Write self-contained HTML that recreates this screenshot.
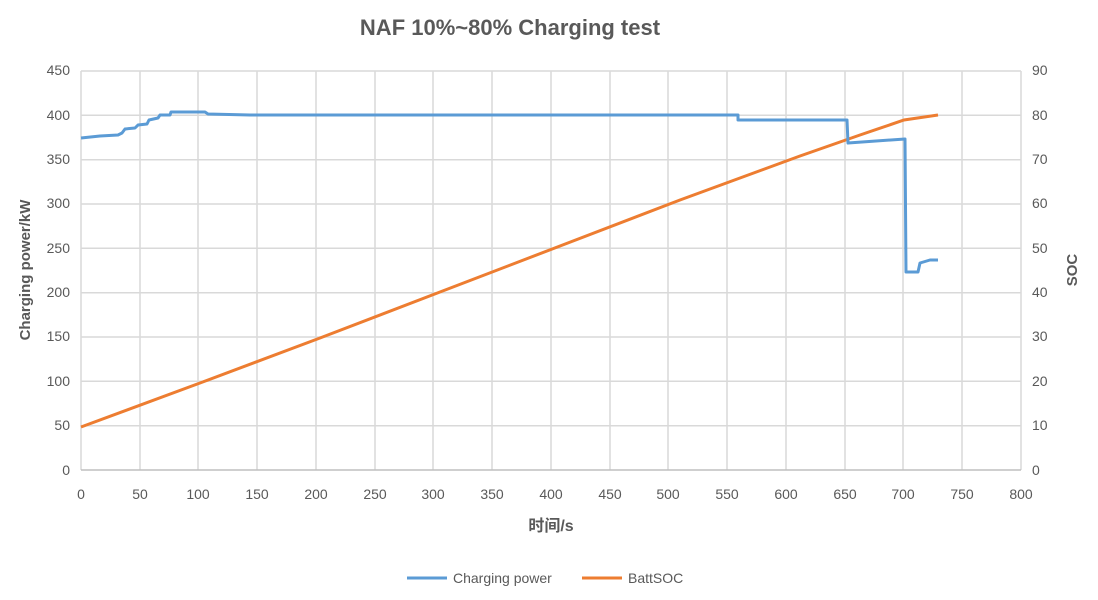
<!DOCTYPE html>
<html><head><meta charset="utf-8"><style>
body{margin:0;background:#fff;}
svg{display:block;font-family:"Liberation Sans","Noto Sans CJK SC",sans-serif;}
</style></head><body>
<svg width="1098" height="600" viewBox="0 0 1098 600">
<rect width="1098" height="600" fill="#fff"/>
<text x="510" y="35" text-anchor="middle" font-size="22" font-weight="bold" fill="#595959">NAF 10%~80% Charging test</text>
<g stroke="#d9d9d9" stroke-width="1.5">
<line x1="81" y1="71" x2="1021" y2="71"/><line x1="81" y1="115.3" x2="1021" y2="115.3"/><line x1="81" y1="159.7" x2="1021" y2="159.7"/><line x1="81" y1="204" x2="1021" y2="204"/><line x1="81" y1="248.3" x2="1021" y2="248.3"/><line x1="81" y1="292.7" x2="1021" y2="292.7"/><line x1="81" y1="337" x2="1021" y2="337"/><line x1="81" y1="381.3" x2="1021" y2="381.3"/><line x1="81" y1="425.7" x2="1021" y2="425.7"/>
<line x1="140" y1="71" x2="140" y2="470"/><line x1="198" y1="71" x2="198" y2="470"/><line x1="257" y1="71" x2="257" y2="470"/><line x1="316" y1="71" x2="316" y2="470"/><line x1="375" y1="71" x2="375" y2="470"/><line x1="433" y1="71" x2="433" y2="470"/><line x1="492" y1="71" x2="492" y2="470"/><line x1="551" y1="71" x2="551" y2="470"/><line x1="610" y1="71" x2="610" y2="470"/><line x1="668" y1="71" x2="668" y2="470"/><line x1="727" y1="71" x2="727" y2="470"/><line x1="786" y1="71" x2="786" y2="470"/><line x1="845" y1="71" x2="845" y2="470"/><line x1="903" y1="71" x2="903" y2="470"/><line x1="962" y1="71" x2="962" y2="470"/><line x1="1021" y1="71" x2="1021" y2="470"/>
<line x1="81" y1="71" x2="81" y2="470"/>
</g>
<line x1="81" y1="470" x2="1021" y2="470" stroke="#bfbfbf" stroke-width="1.5"/>
<g font-size="14" fill="#595959" text-anchor="end">
<text x="70" y="75">450</text><text x="70" y="120">400</text><text x="70" y="164">350</text><text x="70" y="208">300</text><text x="70" y="253">250</text><text x="70" y="297">200</text><text x="70" y="341">150</text><text x="70" y="386">100</text><text x="70" y="430">50</text><text x="70" y="475">0</text>
</g>
<g font-size="14" fill="#595959" text-anchor="start">
<text x="1032" y="75">90</text><text x="1032" y="120">80</text><text x="1032" y="164">70</text><text x="1032" y="208">60</text><text x="1032" y="253">50</text><text x="1032" y="297">40</text><text x="1032" y="341">30</text><text x="1032" y="386">20</text><text x="1032" y="430">10</text><text x="1032" y="475">0</text>
</g>
<g font-size="14" fill="#595959" text-anchor="middle">
<text x="81" y="499">0</text><text x="140" y="499">50</text><text x="198" y="499">100</text><text x="257" y="499">150</text><text x="316" y="499">200</text><text x="375" y="499">250</text><text x="433" y="499">300</text><text x="492" y="499">350</text><text x="551" y="499">400</text><text x="610" y="499">450</text><text x="668" y="499">500</text><text x="727" y="499">550</text><text x="786" y="499">600</text><text x="845" y="499">650</text><text x="903" y="499">700</text><text x="962" y="499">750</text><text x="1021" y="499">800</text>
</g>
<text x="551" y="531" text-anchor="middle" font-size="16" font-weight="bold" fill="#595959">时间/s</text>
<text transform="translate(30,270) rotate(-90)" text-anchor="middle" font-size="15" font-weight="bold" fill="#595959">Charging power/kW</text>
<text transform="translate(1077,270) rotate(-90)" text-anchor="middle" font-size="15" font-weight="bold" fill="#595959">SOC</text>
<polyline fill="none" stroke="#ed7d31" stroke-width="3" points="81,427 200,383 320,338 440,292 560,246 680,200 800,156 860,135 904,120 938,115"/>
<polyline fill="none" stroke="#5b9bd5" stroke-width="3" stroke-linejoin="round" points="81,138 100,136 118,135 122,133 125,129 135,128 138,125 147,124 149,120 158,118 160,115 170,115 171,112 205,112 208,114 250,115 738,115 738,120 847,120 848,143 905,139 906,272 918,272 920,263 930,260 938,260"/>
<line x1="407" y1="578" x2="447" y2="578" stroke="#5b9bd5" stroke-width="3"/>
<text x="453" y="583" font-size="14" fill="#595959">Charging power</text>
<line x1="582" y1="578" x2="622" y2="578" stroke="#ed7d31" stroke-width="3"/>
<text x="628" y="583" font-size="14" fill="#595959">BattSOC</text>
</svg>
</body></html>
